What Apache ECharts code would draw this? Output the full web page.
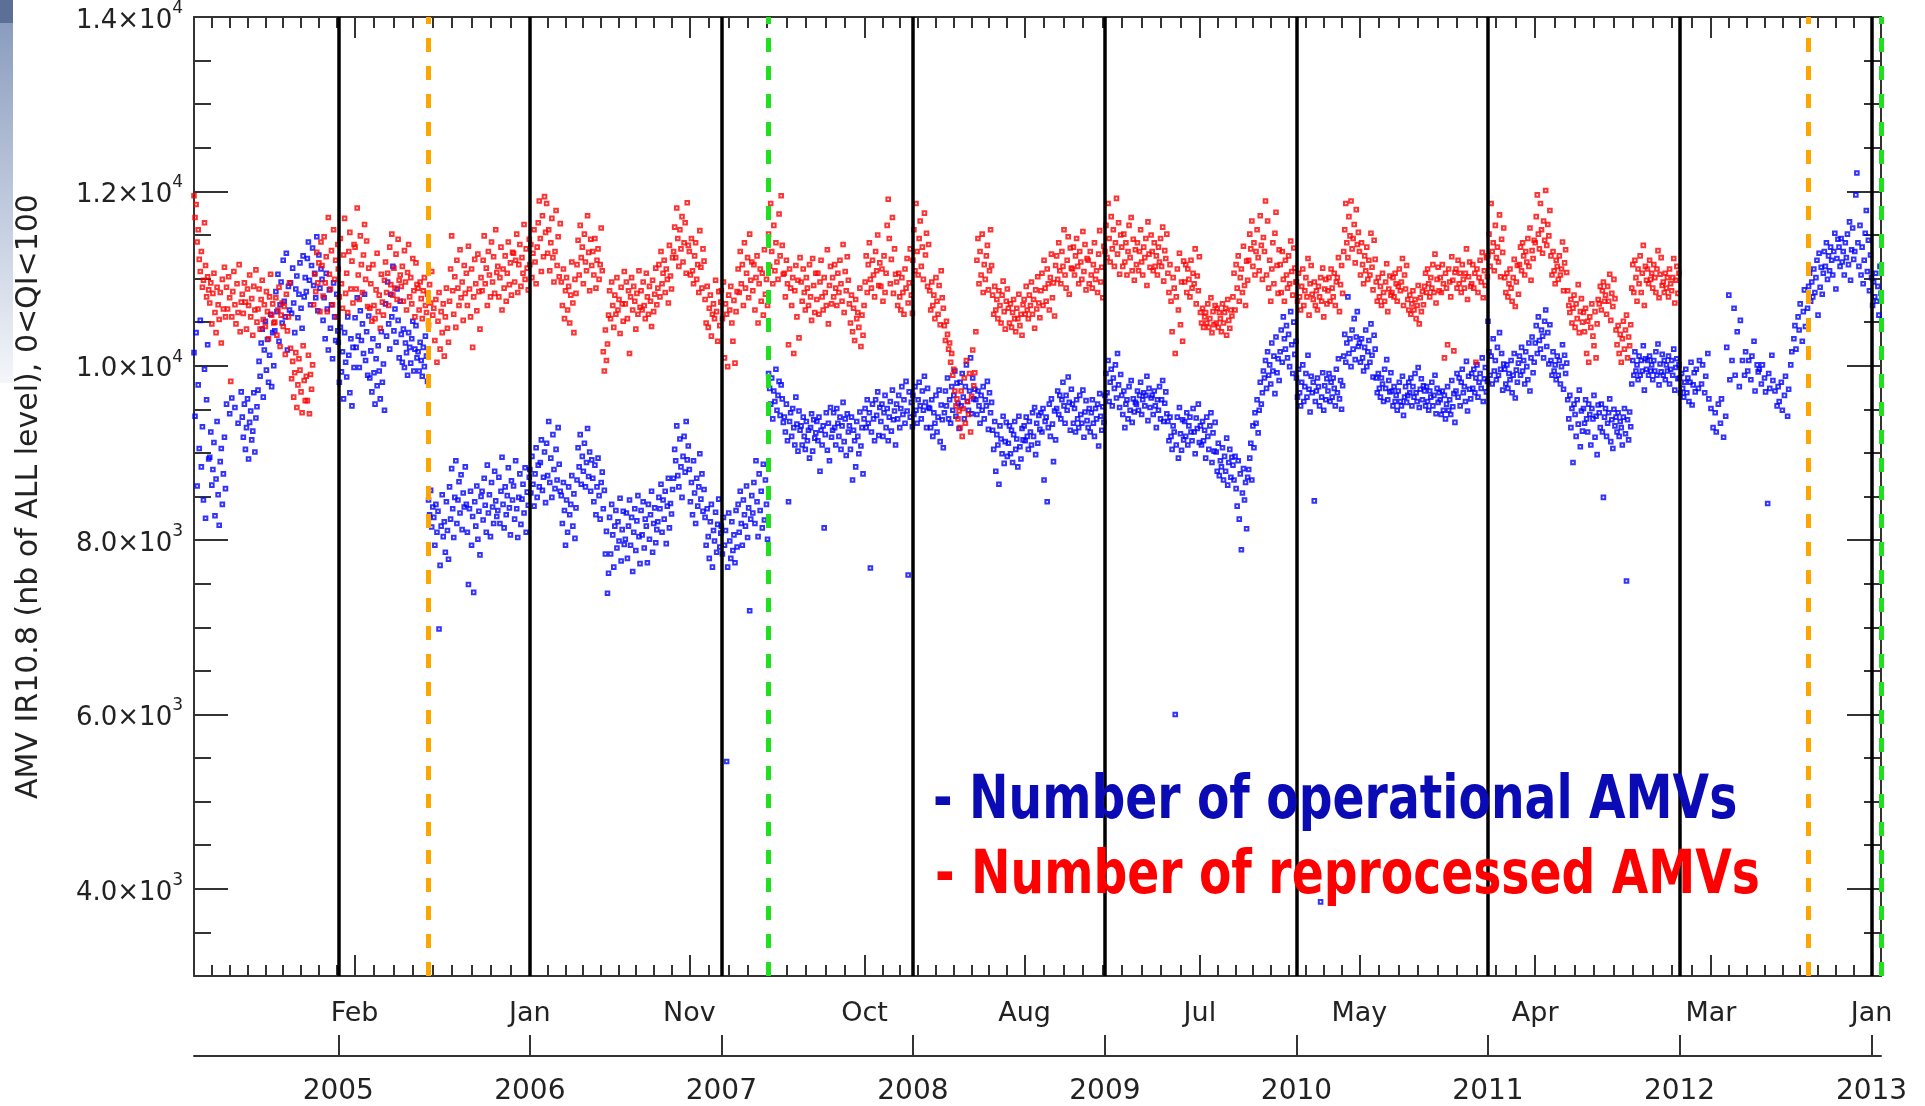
<!DOCTYPE html>
<html>
<head>
<meta charset="utf-8">
<title>AMV IR10.8 counts, operational vs reprocessed</title>
<script src="https://cdn.jsdelivr.net/npm/echarts@6/dist/echarts.min.js"></script>
<style>
  html, body { margin: 0; padding: 0; background: #ffffff; }
  #chart { width: 1925px; height: 1106px; }
</style>
</head>
<body>
<div id="chart"></div>
<script>
// Number of AMVs (IR10.8, all levels, 0<QI<100), one value every 2 days.
// Each yearly list starts on its own first date; one row per month; null = no data.
const SAMPLE_STEP_DAYS = 2;

const operational2004 = [
  10150, 9420, 10380, 8620, 9780, 9050, 10520, 8840, 9300, 8460, 9960, 8250, 9610, 10240, 8930,
  8950, 9240, 8630, 8810, 9120, 8280, 8700, 9360, 8520, 8170, 8900, 9050, 8410, 8760, 9180, 8590,
  9560, null, null, 9450, null, 9630, null, null, 9520, null, null, 9340, null, null, 9700,
  9410, 9180, 9560, 9040, 9290, 9620, 8930, 9350, 9480, 9150, 9250, 9690, 9010, 9400, 9530,
  9720, 10050, 9880, 10260, 10420, 9640, 10180, 10510, 9950, 10300, 9810, 10120, 10590, 9760, 10380, 10000,
  10400, 10850, 10620, 11050, 10280, 10700, 10960, 10490, 11210, 10740, 10560, 11290, 10180, 10910, 10640,
  10950, 10600, 11120, 10720, 10380, 10880, 11030, 10550, 10820, 11180, 10660, 10430, 11260, 10790, 11010,
  10850, 11230, 11420, 10980, 10700, 11150, 11350, 10920, 11060, 10780, 11480, 10630, 11270, 10890, 11110,
  10990, 10520, 10780, 10310, 11060, 10650, 10180, 10870, 10430, 10700, 10080, 10950, 10560, 10290, 10820, 10400
];
const operational2005 = [
  10270, 9810, 10440, 9930, 10160, 9620, 10380, 10040, 9870, 10560, 10120, 9690, 10310, 9540, 10210, 9980,
  10550, 10210, 10780, 10340, 9980, 10630, 10290, 10480, 10140, 10820, 10060, 10390, 9890, 10570,
  9860, 10170, 9700, 10310, 9920, 9560, 10080, 9770, 10230, 9940, 9620, 10390, 9810, 10020, 9490,
  10710, 10340, 10960, 10480, 10190, 10820, 10560, 11140, 10400, 10650, 10270, 10880, 10520, 10090, 10740,
  10360, 10040, 10420, 9980, 10260, 10150, 9890, 10380, 10210, 10030, 10310, 10510, 9940, 10190, 10460, 10090,
  10160, 9940, 10270, 10060, 9880, 10210, 9990, 10340, 10110, 9820, 8460, 8290, 8570, 8150, 8380,
  8260, 7940, 8410, 8090, 8330, 6980, 7710, 8160, 8520, 8040, 8210, 7860, 8440, 8110, 7780,
  8610, 8240, 8820, 8360, 8030, 8490, 8910, 8190, 8460, 8670, 8310, 8750, 8120, 8540, 8380, 8840,
  8410, 8090, 7490, 8360, 8560, 7940, 8270, 7400, 8440, 8160, 8620, 8010, 8330, 7830, 8500,
  8560, 8230, 8710, 8400, 8090, 8860, 8310, 8520, 8040, 8660, 8380, 8190, 8790, 8450, 8270,
  8340, 8720, 8190, 8560, 8950, 8410, 8140, 8610, 8290, 8510, 8830, 8370, 8060, 8680, 8460,
  8620, 8240, 8910, 8360, 8030, 8490, 8760, 8180, 8470, 8640, 8310, 8830, 8090, 8550, 8400, 8720
];
const operational2006 = [
  8810, 8540, 8960, 8640, 8390, 8760, 9060, 8490, 8860, 8610, 8890, 9150, 8570, 8720, 9010, 8430,
  9110, 8740, 9360, 8660, 8940, 8490, 9210, 8810, 8590, 9040, 8690, 9290, 8870, 8560,
  8510, 8190, 8660, 8340, 7940, 8460, 8090, 8610, 8290, 8410, 8740, 8160, 8530, 8020, 8370,
  8690, 9060, 8840, 9210, 8640, 8960, 8790, 9110, 8610, 8890, 9280, 8730, 9010, 8560, 8920,
  8710, 8440, 8860, 8290, 8610, 8940, 8510, 8240, 8660, 8780, 8360, 8570, 7840, 8100, 7390, 7620,
  8260, 7840, 8410, 8060, 7690, 8160, 8340, 7910, 8210, 7990, 8480, 7760, 8120, 8330, 7950,
  8010, 8310, 7790, 8160, 8460, 7940, 8260, 7640, 8090, 8360, 7880, 8220, 8510, 8040, 7730,
  8340, 8060, 8440, 7910, 8240, 8160, 7740, 8410, 8010, 8290, 8560, 7860, 8190, 8370, 7970, 8120,
  8210, 8490, 8360, 8640, 8090, 8460, 8240, 8560, 7960, 8390, 8710, 8140, 8420, 8300, 8580,
  8710, 9040, 8910, 9310, 8740, 8610, 9160, 8840, 8490, 8960, 9190, 8780, 9360, 8920, 9080,
  8810, 8440, 8660, 8290, 8910, 8540, 8190, 8710, 8390, 8610, 8990, 8470, 8760, 8330, 8580,
  8260, 7940, 8360, 8040, 7790, 8210, 8410, 7690, 8110, 7990, 8320, 7860, 8180, 8470, 7920, 8080
];
const operational2007 = [
  8160, 7840, 8260, 7940, 8110, 5460, 7690, 8310, 7990, 7790, 8210, 7880, 8060, 7740, 8340, 7920,
  8410, 8090, 8560, 8190, 7940, 8460, 8290, 8160, 8620, 8030, 8370, 7190, 8240, 8510,
  8310, 8660, 8190, 8910, 8440, 8040, 8760, 8340, 8560, 8140, 8870, 8230, 8690, 8410, 8010,
  9910, 9740, 9560, 9860, 9390, 9710, 9590, 9960, 9490, 9660, 9820, 9430, 9780, 9620, 9350,
  9410, 9240, 9560, 9140, 8440, 9360, 9460, 9190, 9510, 9290, 9090, 9640, 9330, 9020, 9480, 9260,
  9310, 9090, 9410, 9190, 9040, 9360, 9140, 9260, 8940, 9290, 9450, 9020, 9380, 9170, 9230,
  9360, 9140, 9410, 8790, 9260, 9090, 9310, 8140, 9210, 9460, 9030, 9340, 8910, 9520, 9180,
  9260, 9460, 9290, 9090, 9510, 9340, 9190, 9410, 9040, 9310, 9580, 9130, 9390, 8970, 9450, 9240,
  9310, 9040, 9410, 8690, 9260, 9140, 8840, 9360, 9190, 8990, 9470, 9080, 9290, 8760, 9390,
  9510, 9290, 9610, 9340, 9460, 7680, 9240, 9560, 9390, 9140, 9610, 9430, 9700, 9200, 9520,
  9360, 9560, 9190, 9460, 9660, 9290, 9510, 9140, 9410, 9590, 9250, 9720, 9380, 9480, 9090,
  9560, 9390, 9660, 9290, 9510, 9760, 9440, 9610, 9340, 9820, 9480, 7600, 9700, 9410, 9580, 9300
];
const operational2008 = [
  9660, 9440, 9760, 9490, 9340, 9610, 9810, 9540, 9390, 9710, 9490, 9880, 9580, 9290, 9740, 9520,
  9510, 9290, 9610, 9190, 9460, 9340, 9660, 9240, 9410, 9720, 9130, 9550, 9380, 9060,
  9460, 9710, 9540, 9860, 9390, 9610, 9340, 9760, 9490, 9660, 9940, 9420, 9800, 9570, 9280,
  9810, 9540, 9910, 9640, 9390, 9760, 10010, 9590, 9490, 9710, 10090, 9450, 9860, 9620, 9730,
  9610, 9440, 9710, 9540, 9340, 9660, 9490, 9760, 9390, 9610, 9540, 9820, 9270, 9690, 9460, 9580,
  9260, 9040, 9360, 8790, 9210, 9090, 8640, 9310, 9160, 8990, 9420, 8880, 9130, 9350, 8960,
  9110, 9310, 8990, 9260, 8890, 9210, 9360, 9040, 9160, 8840, 9420, 9070, 8930, 9280, 9150,
  9310, 9140, 9410, 9190, 9040, 9360, 9240, 9090, 9460, 9190, 9520, 8980, 9340, 9110, 9430, 9270,
  9460, 9240, 9510, 8690, 9360, 9410, 8440, 9290, 9560, 9190, 9620, 9330, 8900, 9480, 9150,
  9510, 9710, 9440, 9660, 9390, 9610, 9810, 9540, 9340, 9660, 9490, 9870, 9580, 9260, 9730,
  9560, 9340, 9510, 9240, 9610, 9390, 9290, 9660, 9440, 9340, 9720, 9180, 9470, 9600, 9370,
  9290, 9510, 9240, 9460, 9610, 9340, 9190, 9510, 9390, 9560, 9080, 9680, 9420, 9260, 9530, 9350
];
const operational2009 = [
  9660, 9910, 9690, 10060, 9590, 9810, 9960, 9540, 9860, 9740, 10010, 9630, 10140, 9780, 9520, 9900,
  9660, 9440, 9710, 9290, 9560, 9610, 9390, 9760, 9490, 9830, 9350, 9620, 9470, 9580,
  9560, 9710, 9490, 9660, 9810, 9440, 9610, 9690, 9540, 9660, 9880, 9370, 9740, 9520, 9630,
  9660, 9440, 9710, 9540, 9290, 9610, 9490, 9760, 9390, 9610, 9830, 9360, 9570, 9700, 9450,
  9360, 9140, 9410, 9190, 9040, 9310, 9240, 6000, 9090, 9410, 8940, 9520, 9220, 9030, 9380, 9150,
  9360, 9190, 9460, 9090, 9310, 9410, 9240, 9140, 9510, 9240, 8990, 9400, 9280, 9560, 9120,
  9310, 9090, 9360, 9140, 9260, 8940, 9410, 9190, 9040, 9310, 9460, 8890, 9230, 9020, 9350,
  9010, 8790, 9110, 8740, 8910, 8840, 9060, 8690, 8960, 8790, 9170, 8630, 8890, 9040, 8720, 8950,
  8860, 8690, 8960, 8590, 8390, 8910, 8240, 8760, 7890, 8540, 8820, 8460, 8660, 8130, 8720,
  8810, 8940, 9110, 8690, 9310, 9060, 9460, 9340, 9610, 9230, 9490, 9810, 9560, 9690, 9940,
  9860, 10060, 9740, 10160, 9890, 10010, 9790, 10260, 9940, 10110, 9680, 10330, 9920, 10080, 9830,
  10160, 10410, 10040, 10560, 10310, 10190, 10460, 10090, 10360, 9990, 10620, 10240, 9910, 10500, 10130, 10280
];
const operational2010 = [
  9860, 9640, 9960, 9690, 9540, 9810, 10010, 9590, 9760, 9910, 9640, 10120, 9730, 9470, 9880, 9690,
  9810, 8450, 9590, 9710, 9860, 9760, 9540, 3850, 9640, 9920, 9490, 9770, 9610, 9850,
  9710, 9910, 9590, 9810, 9640, 9860, 9740, 9540, 9960, 9690, 10080, 9620, 9830, 9500, 9770,
  10110, 10360, 10040, 10260, 10790, 10140, 10310, 9990, 10410, 10190, 10540, 10070, 10330, 10620, 10220,
  10260, 10040, 10310, 10090, 9940, 10210, 10410, 9990, 10160, 10290, 10040, 10480, 10120, 9870, 10350, 10190,
  9860, 9690, 9910, 9740, 9640, 9860, 9790, 9590, 9960, 9740, 10070, 9610, 9830, 9700, 9920,
  9710, 9540, 9760, 9590, 9660, 9490, 9710, 9810, 9590, 9540, 9880, 9430, 9640, 9760, 9580,
  9660, 9810, 9690, 9860, 9540, 9760, 9640, 9910, 9690, 9590, 9980, 9520, 9730, 9850, 9610, 9770,
  9710, 9540, 9760, 9590, 9490, 9710, 9640, 9810, 9540, 9660, 9890, 9450, 9740, 9580, 9690,
  9610, 9440, 9710, 9490, 9660, 9390, 9560, 9760, 9490, 9610, 9440, 9830, 9530, 9680, 9350,
  9710, 9910, 9640, 9860, 9540, 9810, 9960, 9690, 9760, 9590, 10050, 9480, 9880, 9730, 9620,
  9910, 9740, 9960, 9690, 9860, 10010, 9640, 9810, 9910, 9740, 10090, 9590, 9850, 9980, 9700, 9820
];
const operational2011 = [
  10510, 10160, 9890, 10110, 9790, 10310, 9940, 10060, 9840, 10210, 9890, 10380, 9960, 10140, 9720, 10020,
  9960, 9790, 10010, 9740, 9910, 9840, 10060, 9690, 9890, 10140, 9630, 9950, 9810, 10030,
  10110, 9890, 10210, 9940, 10060, 9790, 10160, 9990, 9840, 10260, 9710, 10090, 10330, 9920, 10040,
  10260, 10460, 10140, 10560, 10290, 10190, 10410, 10340, 10090, 10510, 10640, 10220, 10380, 10020, 10470,
  10060, 9890, 10160, 9940, 10010, 9840, 10110, 9890, 10060, 9790, 9990, 10240, 9730, 10120, 9910, 10030,
  9610, 9390, 9660, 9290, 9510, 8890, 9560, 9440, 9190, 9610, 9330, 9720, 9070, 9480, 9250,
  9510, 9340, 9610, 9390, 9240, 9560, 9440, 9090, 9510, 9390, 9660, 9180, 9420, 8980, 9550,
  9460, 9290, 9560, 9240, 8490, 9410, 9510, 9190, 9340, 9460, 9620, 9130, 9380, 9050, 9500, 9310,
  9410, 9240, 9460, 9190, 9360, 9290, 9090, 9410, 9510, 9220, 7530, 9380, 9150, 9470, 9300,
  9790, 10060, 9890, 10160, 9940, 10010, 9840, 10110, 9890, 10060, 9940, 10230, 9720, 10080, 9960,
  10060, 9890, 10110, 9940, 10010, 9840, 10060, 9940, 10160, 9890, 10250, 9780, 10020, 9930, 10130,
  9890, 10060, 9840, 10010, 9940, 10110, 9790, 9960, 10060, 9890, 10190, 9720, 9980, 10080, 9850, 10010
];
const operational2012 = [
  9860, 9690, 9910, 9740, 9640, 9810, 9960, 9690, 9860, 9590, 9810, 10040, 9550, 9780, 9920, 9700,
  9960, null, 9740, 10060, null, 9790, 10010, null, 9690, 9880, null, 10140, 9620, null,
  9510, null, 9290, null, 9460, 9240, null, 9560, null, 9340, 9620, null, 9180, null, 9420,
  10210, null, 10810, 9840, null, 10060, null, 10660, 9890, null, 10390, null, 9760, 10520, null,
  10060, null, 9890, 10160, null, 9940, 10060, null, 9840, 10110, null, 10280, 9710, null, 10010, 9930,
  9960, null, 9790, 10010, null, 9860, 9700, null, 8420, 9910, 9740, null, 10120, 9830, null,
  9710, null, 9540, 9760, 9590, null, 9810, 9490, null, 9660, 9880, null, 9420, 9730, null,
  10010, 10160, null, 10310, 10460, 10190, null, 10560, 10410, 10710, null, 10280, 10620, 10870, 10450, null,
  10660, 10910, 11060, 10740, 10960, 10790, 11110, 10840, 11010, 11210, 10580, 11290, 10900, 11130, 10820,
  11060, 11310, 11140, 11410, 10990, 11260, 11090, 11360, 11210, 11040, 11310, 11520, 10880, 11230, 11450,
  11360, 11140, 11460, 11190, 11310, 11040, 11410, 11240, 11510, 11160, 11650, 10980, 11330, 11580, 11220,
  11310, 11960, 12210, 11410, 11140, 11610, 11040, 11360, 10940, 11210, 11520, 11780, 11080, 11440, 10860, 11270
];
const operational2013 = [
  11010, 10690, 10960, 10790, 11060, 10740, 10910, 10580, 11140, 10830
];

const reprocessed2004 = [
  11950, 11700, 11850, 11420, 11560, 11220, 11080, 11310, 10900, 10980, 11640, 11150, 10790, 11020, 10870,
  10720, 10950, 10480, 10830, 11060, 10610, 10380, 10900, 10700, 10530, 10840, 10260, 10990, 10650, 11130, 10560,
  10900, 10650, 11020, 10780, 9820, 10560, 10850, 11080, 10700, 10480, 10940, 10610, 11160, 10390, 10730,
  10820, 10600, 10950, 10730, 10420, 10880, 10690, 11040, 10560, 10770, 10350, 10910, 10640, 11100, 10500,
  10650, 10880, 10420, 10760, 10980, 10530, 10700, 10450, 10850, 10620, 10310, 10790, 11050, 10580, 10710, 10490,
  10500, 10780, 10350, 10640, 10900, 10220, 10580, 10720, 10450, 10680, 10130, 10820, 10400, 10560, 10950,
  10200, 9850, 10050, 9640, 9920, 10150, 9520, 9780, 10080, 9950, 9700, 9460, 10230, 9830, 9600,
  9880, 9600, 10120, 9450, 9900, 9730, 10010, 10700, 11050, 10850, 11300, 10950, 11180, 10620, 11420,
  11150, 10800, 11480, 10950, 11250, 10620, 11700, 11050, 10880, 11320, 10700, 11560, 10990, 11210, 10560, 11390
];
const reprocessed2005 = [
  11110, 10790, 11460, 10940, 10660, 11270, 11690, 10830, 11060, 10610, 11310, 11530, 10880, 11200, 10720, 11390,
  11360, 10880, 11810, 11040, 10760, 11490, 11160, 10840, 11270, 11620, 10990, 11430, 10680, 11120,
  10660, 10940, 10510, 11160, 10690, 10540, 10870, 11290, 10620, 10810, 10430, 11050, 10730, 10580, 10980,
  11190, 10840, 11060, 10690, 11360, 10930, 11510, 10810, 11120, 10890, 11280, 10760, 11450, 10980, 11040,
  10910, 11140, 10740, 11320, 10960, 10640, 11070, 11390, 10790, 11010, 10710, 11230, 10860, 10560, 11180, 10930,
  10890, 10640, 10960, 10770, 10540, 10860, 11010, 10690, 10610, 10820, 10470, 10930, 10720, 11080, 10580,
  10660, 10290, 10760, 10040, 10510, 10840, 10190, 10620, 10380, 10710, 10110, 10560, 10890, 10430, 10270,
  10740, 11110, 11490, 10860, 10590, 11020, 10440, 11210, 10890, 10690, 11330, 10780, 10960, 10520, 11150, 10830,
  11060, 10690, 11370, 10880, 10560, 11110, 10210, 10790, 11220, 10940, 10630, 11280, 10850, 10420, 11010,
  10860, 11210, 11490, 10940, 11120, 10690, 11310, 11040, 10790, 11420, 10960, 11250, 10830, 11560, 11070,
  11140, 10790, 11010, 11360, 10640, 11110, 10890, 11260, 10740, 11060, 11420, 10930, 11180, 10810, 11300,
  11290, 10960, 11210, 11510, 10840, 11160, 11390, 10910, 11240, 11060, 11620, 10990, 11340, 11120, 10870, 11450
];
const reprocessed2006 = [
  11160, 11390, 11010, 11290, 11560, 11190, 10940, 11360, 11640, 11890, 11460, 11080, 11720, 11250, 11940, 11530,
  11860, 11290, 11560, 11090, 11410, 11690, 11240, 10960, 11310, 11780, 11150, 11480, 11020, 11630,
  10960, 10690, 11110, 10540, 10860, 11010, 10640, 10910, 10490, 10810, 11190, 10720, 10380, 10990, 10830,
  11160, 11440, 11040, 11610, 11240, 11360, 10940, 11510, 11190, 11090, 11720, 11300, 10860, 11450, 11150,
  11310, 11040, 11460, 10890, 11210, 11340, 10990, 11160, 11580, 11090, 10160, 9940, 10410, 10060, 10250, 10580,
  10860, 10540, 10960, 10690, 10440, 10810, 10590, 11010, 10640, 10760, 10370, 10900, 10710, 10510, 11080,
  10710, 10960, 10540, 10860, 10140, 10790, 11010, 10640, 10910, 10740, 10420, 10830, 10590, 11090, 10670,
  10860, 10640, 10960, 10690, 10540, 11060, 10790, 10590, 10910, 10740, 10450, 10980, 10620, 10820, 11120, 10700,
  10890, 11160, 10790, 11310, 10940, 11060, 11210, 10840, 11110, 10990, 10720, 11380, 11030, 10880, 11240,
  11310, 11590, 11240, 11810, 11460, 11140, 11560, 11340, 11710, 11190, 11410, 11640, 11060, 11870, 11380,
  11310, 11040, 11460, 11090, 10940, 11260, 11410, 10990, 11160, 10840, 11550, 11130, 10890, 11340, 11200,
  10760, 10490, 10910, 10440, 10660, 10810, 10340, 10590, 10710, 10540, 10980, 10620, 10280, 10850, 10460, 10730
];
const reprocessed2007 = [
  10860, 10540, 10960, 10090, 10710, 10590, 9990, 10810, 10640, 10910, 10490, 10280, 10750, 10030, 10620, 10850,
  11110, 10840, 11310, 10940, 11160, 10690, 11410, 10890, 11060, 11240, 10780, 11510, 10980, 11190,
  10860, 11160, 10640, 11010, 11260, 10490, 10940, 11110, 10740, 11060, 10580, 11330, 10820, 10990, 10690,
  11510, 11140, 11860, 11310, 10940, 11610, 11090, 11410, 11190, 10990, 11740, 11260, 11950, 11380, 11050,
  11060, 10790, 11210, 10940, 10240, 11110, 10890, 10690, 11010, 10140, 10860, 11150, 10560, 10980, 10320, 11240,
  10960, 10740, 11110, 10840, 10640, 11010, 10890, 10690, 11160, 10790, 10520, 11230, 10920, 10610, 11060,
  10760, 11060, 10590, 10960, 11210, 10790, 10640, 11010, 10840, 10690, 11330, 10480, 10920, 11140, 10710,
  11010, 10790, 11160, 10890, 10690, 11060, 10840, 11210, 10940, 10740, 11390, 10610, 11080, 10860, 11250, 10980,
  10710, 10490, 10810, 10390, 10660, 10290, 10760, 10540, 10610, 10440, 10890, 10220, 10580, 10350, 10690,
  10960, 11260, 10840, 11160, 11410, 10990, 10890, 11210, 11040, 10790, 11310, 11090, 11500, 10920, 11180,
  10910, 11110, 10740, 11260, 10840, 11060, 11610, 11910, 11460, 10940, 11220, 11700, 10830, 11340, 11050,
  10960, 10690, 11060, 10790, 10640, 11010, 10840, 10590, 11110, 10890, 11230, 10720, 10950, 11340, 10810, 10600
];
const reprocessed2008 = [
  11210, 11560, 11090, 11860, 11310, 11040, 11460, 11660, 11140, 11360, 10990, 11750, 11270, 11520, 10910, 11390,
  10860, 10640, 10960, 10690, 10810, 10540, 11010, 10740, 10590, 10920, 10470, 11090, 10780, 10660,
  10460, 10290, 10510, 10360, 10190, 10260, 10040, 10140, 9890, 9960, 9710, 9540, 9620, 9390, 9480,
  9290, 9710, 9190, 9510, 9860, 9340, 10060, 9590, 9440, 9910, 9240, 9650, 10180, 9770, 9920,
  10390, 11210, 11460, 10940, 11310, 11040, 11510, 10840, 11160, 10990, 11260, 11380, 10870, 11090, 11560, 11150,
  10810, 10590, 10910, 10640, 10760, 10540, 10860, 10690, 10490, 10810, 10970, 10620, 10420, 10740, 10880,
  10660, 10490, 10710, 10440, 10610, 10760, 10540, 10390, 10660, 10540, 10820, 10460, 10590, 10350, 10700,
  10760, 10590, 10910, 10640, 10540, 10810, 10690, 10960, 10590, 10760, 10430, 10870, 10650, 11020, 10720, 10550,
  10860, 11060, 10690, 11210, 10890, 10740, 11110, 10940, 10640, 11010, 11280, 10780, 10950, 10570, 11150,
  11260, 10990, 11410, 11090, 10940, 11310, 11140, 11560, 11040, 10890, 11210, 11480, 10820, 11350, 11120,
  11110, 11360, 11040, 11260, 11460, 11140, 10940, 11310, 11190, 10990, 11540, 11080, 11390, 10870, 11230,
  11210, 10940, 11310, 11040, 10890, 11160, 11410, 10990, 11090, 10840, 11280, 11550, 10960, 11130, 10780, 11370
];
const reprocessed2009 = [
  11310, 11610, 11240, 11860, 11460, 11190, 11710, 11340, 11560, 11140, 11410, 11920, 11280, 11640, 11050, 11500,
  11360, 11140, 11510, 11190, 11410, 11040, 11310, 11610, 11240, 11700, 11090, 11450, 10980, 11330,
  11160, 11410, 11090, 11310, 11560, 11190, 11040, 11360, 11240, 11460, 10920, 11650, 11280, 11130, 11500,
  11310, 11090, 11410, 11140, 11260, 11040, 11360, 11190, 11460, 11140, 11590, 10970, 11320, 11230, 11510,
  11060, 10840, 11160, 10740, 10390, 11010, 10890, 10140, 10790, 11110, 10640, 11290, 10470, 10960, 10280, 11200,
  10960, 11160, 10840, 11110, 10990, 10790, 11210, 10890, 11060, 10940, 11340, 10710, 11030, 10860, 11250,
  10610, 10490, 10660, 10440, 10560, 10610, 10490, 10710, 10440, 10540, 10780, 10380, 10620, 10470, 10690,
  10490, 10660, 10440, 10610, 10540, 10390, 10710, 10490, 10610, 10660, 10350, 10760, 10520, 10430, 10640, 10570,
  10790, 11060, 10640, 11160, 10890, 11260, 10740, 11010, 11110, 10840, 11370, 10920, 10690, 11200, 10980,
  11210, 11510, 11340, 11660, 11140, 11410, 11040, 11310, 11560, 11240, 11090, 11720, 11380, 10990, 11470,
  11310, 11890, 11040, 11660, 10890, 11210, 10740, 11110, 11410, 10940, 11520, 11760, 11150, 10830, 11330,
  11160, 10840, 11310, 10990, 10740, 11210, 11040, 10890, 11260, 10940, 11430, 11080, 10810, 11350, 11120, 10960
];
const reprocessed2010 = [
  10960, 10740, 11060, 10790, 10640, 10910, 11110, 10690, 10860, 11010, 10790, 11230, 10580, 10940, 11150, 10820,
  10760, 10960, 10690, 10860, 10640, 10910, 10790, 11010, 10740, 11120, 10560, 10880, 10990, 10710,
  10860, 11010, 10740, 11110, 10890, 10790, 11060, 10690, 10960, 11010, 11240, 10620, 10930, 11150, 10830,
  11310, 11560, 11860, 11410, 11240, 11710, 11490, 11890, 11340, 11460, 11620, 11180, 11790, 11390, 11530,
  11310, 11040, 11410, 11160, 10940, 11260, 11090, 11360, 10990, 11210, 11040, 11520, 11130, 10870, 11440, 11220,
  10960, 10740, 11010, 10790, 10910, 10690, 11060, 10840, 10740, 10960, 11170, 10620, 10880, 11030, 10810,
  10840, 11010, 10790, 11060, 10940, 10740, 10910, 11110, 10860, 10960, 11230, 10690, 11040, 10880, 11150,
  10760, 10640, 10810, 10590, 10710, 10860, 10640, 10760, 10540, 10690, 10920, 10480, 10780, 10620, 10850, 10700,
  10910, 11060, 10840, 11110, 10940, 10790, 11010, 10890, 11160, 10840, 11280, 10720, 10990, 11130, 10860,
  11010, 10840, 11160, 10940, 10090, 11060, 10890, 10240, 11110, 10960, 10790, 11250, 10980, 10170, 11070,
  11110, 10890, 11210, 10940, 11060, 10840, 11160, 10990, 10890, 11060, 11340, 10760, 11020, 11190, 10910,
  10940, 11160, 10890, 11060, 10040, 11110, 10840, 11010, 11210, 10960, 11300, 10780, 11090, 10920, 11240, 11020
];
const reprocessed2011 = [
  11260, 11510, 11140, 11860, 11310, 11410, 11090, 11610, 11240, 11360, 11190, 11730, 11020, 11450, 11300, 11580,
  11010, 10840, 11060, 10790, 10940, 11110, 10890, 10740, 11010, 11220, 10680, 10960, 11150, 10820,
  11160, 11360, 11090, 11410, 11260, 11040, 11310, 11190, 11460, 11140, 11580, 10980, 11320, 11230, 11440,
  11410, 11710, 11960, 11510, 11340, 11860, 11560, 11290, 11660, 11440, 12010, 11380, 11620, 11490, 11780,
  11260, 11040, 11310, 11090, 10940, 11210, 11140, 10990, 11260, 11040, 11110, 11420, 10860, 11180, 11330, 11070,
  10860, 10690, 10610, 10760, 10490, 10660, 10810, 10440, 10710, 10540, 10930, 10380, 10620, 10770, 10500,
  10610, 10390, 10660, 10140, 10510, 10040, 10560, 10440, 10710, 10340, 10230, 10620, 10090, 10480, 10760,
  10710, 10910, 10640, 10860, 10960, 10740, 10810, 10590, 10910, 10740, 11050, 10520, 10830, 10680, 10990, 10770,
  10410, 10240, 10460, 10140, 10360, 10040, 10310, 10510, 10190, 10410, 10580, 10090, 10330, 10230, 10470,
  10890, 11160, 10840, 11210, 11010, 10740, 11110, 10940, 11260, 10840, 11060, 11380, 10690, 11140, 10980,
  11110, 10940, 11210, 10990, 11060, 10890, 11160, 11010, 10840, 11110, 11320, 10780, 11050, 11240, 10920,
  10960, 10840, 11060, 10890, 11010, 10790, 11110, 10940, 10860, 11010, 11230, 10720, 10980, 11140, 10830, 11060
];

// First date of each yearly list
const operationalStarts = ['2004-04-01', '2005-01-01', '2006-01-01', '2007-01-01', '2008-01-01',
  '2009-01-01', '2010-01-01', '2011-01-01', '2012-01-01', '2013-01-01'];
const operationalYears = [operational2004, operational2005, operational2006, operational2007, operational2008,
  operational2009, operational2010, operational2011, operational2012, operational2013];
const reprocessedStarts = ['2004-04-01', '2005-01-01', '2006-01-01', '2007-01-01', '2008-01-01',
  '2009-01-01', '2010-01-01', '2011-01-01'];
const reprocessedYears = [reprocessed2004, reprocessed2005, reprocessed2006, reprocessed2007, reprocessed2008,
  reprocessed2009, reprocessed2010, reprocessed2011];

// Time axis: range, labelled month ticks, year ticks, event markers
const X_RANGE = ['2004-04-01', '2013-01-19'];
const MONTH_TICK_DATES = ['2004-04-01', '2005-02-01', '2006-01-01', '2006-11-01', '2007-10-01', '2008-08-01',
  '2009-07-01', '2010-05-01', '2011-04-01', '2012-03-01', '2013-01-01'];
const YEAR_TICK_DATES = ['2005-01-01', '2006-01-01', '2007-01-01', '2008-01-01', '2009-01-01',
  '2010-01-01', '2011-01-01', '2012-01-01', '2013-01-01'];
const ORANGE_EVENT_DATES = ['2005-06-21', '2012-09-02'];
const GREEN_EVENT_DATES = ['2007-04-01', '2013-01-19'];
const MONTH_NAMES = ['Jan', 'Feb', 'Mar', 'Apr', 'May', 'Jun', 'Jul', 'Aug', 'Sep', 'Oct', 'Nov', 'Dec'];

// Count axis
const Y_RANGE = [3000, 14000];
const Y_MAJOR_TICKS = [4000, 6000, 8000, 10000, 12000, 14000];
const Y_MINOR_STEP = 500;

const DAY_MS = 86400000;
function utc(s) {
  const p = s.split('-').map(Number);
  return Date.UTC(p[0], p[1] - 1, p[2]);
}
function toPoints(starts, years) {
  const pts = [];
  years.forEach(function (vals, k) {
    const t0 = utc(starts[k]);
    vals.forEach(function (v, i) {
      if (v !== null) pts.push([t0 + i * SAMPLE_STEP_DAYS * DAY_MS, v]);
    });
  });
  return pts;
}

const xMin = utc(X_RANGE[0]);
const xMax = utc(X_RANGE[1]);
const monthTicks = MONTH_TICK_DATES.map(utc);
const yearTicks = YEAR_TICK_DATES.map(utc);
// nine minor intervals between neighbouring month ticks
const minorTicks = [];
for (let k = 0; k < monthTicks.length - 1; k++) {
  const a = monthTicks[k], b = monthTicks[k + 1];
  for (let j = 1; j < 9; j++) minorTicks.push(a + (b - a) * j / 9);
}

const AXIS_COLOR = '#333333';
const TEXT_COLOR = '#222222';
const FONT = 'DejaVu Sans';

function sciLabel(v) {
  const e = Math.floor(Math.log10(v) + 1e-9);
  const m = (v / Math.pow(10, e)).toFixed(1);
  return '{m|' + m + '\u00d710}{e|' + e + '}';
}

function xAxisDef(extra) {
  return Object.assign({
    type: 'value', min: xMin, max: xMax, gridIndex: 0,
    splitLine: { show: false },
    axisLine: { show: false, onZero: false },
    axisLabel: { show: false },
    axisTick: { show: false }
  }, extra);
}
function yAxisDef(extra) {
  return Object.assign({
    type: 'value', min: Y_RANGE[0], max: Y_RANGE[1], gridIndex: 0,
    splitLine: { show: false },
    axisLine: { show: false, onZero: false },
    axisLabel: { show: false },
    axisTick: { show: false }
  }, extra);
}

const tickStyle = { color: AXIS_COLOR, width: 2 };
const lineStyle = { color: AXIS_COLOR, width: 2 };

const xAxes = [
  xAxisDef({
    position: 'bottom',
    axisLine: { show: true, onZero: false, lineStyle: lineStyle },
    axisTick: { show: true, inside: true, length: 21, customValues: monthTicks, lineStyle: tickStyle },
    axisLabel: {
      show: true, customValues: monthTicks.slice(1), margin: 24,
      fontSize: 27, fontFamily: FONT, color: TEXT_COLOR,
      formatter: function (v) { return MONTH_NAMES[new Date(v).getUTCMonth()]; }
    }
  }),
  xAxisDef({
    position: 'bottom',
    axisTick: { show: true, inside: true, length: 11, customValues: minorTicks, lineStyle: tickStyle }
  }),
  xAxisDef({
    position: 'top',
    axisLine: { show: true, onZero: false, lineStyle: lineStyle },
    axisTick: { show: true, inside: true, length: 21, customValues: monthTicks, lineStyle: tickStyle }
  }),
  xAxisDef({
    position: 'top',
    axisTick: { show: true, inside: true, length: 11, customValues: minorTicks, lineStyle: tickStyle }
  }),
  xAxisDef({
    position: 'bottom', offset: 80,
    axisLine: { show: true, onZero: false, lineStyle: lineStyle },
    axisTick: { show: true, inside: true, length: 21, customValues: yearTicks, lineStyle: tickStyle },
    axisLabel: {
      show: true, customValues: yearTicks, margin: 22,
      fontSize: 28, fontFamily: FONT, color: TEXT_COLOR,
      formatter: function (v) { return String(new Date(v).getUTCFullYear()); }
    }
  })
];

const yAxes = [
  yAxisDef({
    position: 'left',
    name: 'AMV IR10.8 (nb of ALL level), 0<QI<100',
    nameLocation: 'middle', nameRotate: 90, nameGap: 150,
    nameTextStyle: { fontSize: 30, fontFamily: FONT, color: TEXT_COLOR },
    axisLine: { show: true, onZero: false, lineStyle: lineStyle },
    axisTick: { show: true, inside: true, length: 34, customValues: Y_MAJOR_TICKS, lineStyle: tickStyle },
    axisLabel: {
      show: true, customValues: Y_MAJOR_TICKS, margin: 11, formatter: sciLabel,
      rich: {
        m: { fontSize: 26, fontFamily: FONT, color: TEXT_COLOR, lineHeight: 34, verticalAlign: 'bottom' },
        e: { fontSize: 17, fontFamily: FONT, color: TEXT_COLOR, lineHeight: 17, verticalAlign: 'top' }
      }
    }
  }),
  yAxisDef({
    position: 'left', interval: Y_MINOR_STEP,
    axisTick: { show: true, inside: true, length: 17, lineStyle: tickStyle }
  }),
  yAxisDef({
    position: 'right',
    axisLine: { show: true, onZero: false, lineStyle: lineStyle },
    axisTick: { show: true, inside: true, length: 34, customValues: Y_MAJOR_TICKS, lineStyle: tickStyle }
  }),
  yAxisDef({
    position: 'right', interval: Y_MINOR_STEP,
    axisTick: { show: true, inside: true, length: 17, lineStyle: tickStyle }
  })
];

function squareSeries(name, color, data, z) {
  return {
    name: name, type: 'scatter', xAxisIndex: 0, yAxisIndex: 0,
    data: data, symbol: 'rect', symbolSize: 3.6,
    itemStyle: { color: 'rgba(255,255,255,0)', borderColor: color, borderWidth: 2 },
    progressive: 0, large: false, silent: true, z: z
  };
}

const markerLines = []
  .concat(yearTicks.map(function (t) {
    return { xAxis: t, lineStyle: { color: '#000000', width: 3.5, type: 'solid' } };
  }))
  .concat(ORANGE_EVENT_DATES.map(function (d) {
    return { xAxis: utc(d), lineStyle: { color: '#ffa500', width: 5, type: [14, 14] } };
  }))
  .concat(GREEN_EVENT_DATES.map(function (d) {
    return { xAxis: utc(d), lineStyle: { color: '#1ee01e', width: 5, type: [14, 14] } };
  }));

const chart = echarts.init(document.getElementById('chart'), null, { renderer: 'canvas' });
chart.setOption({
  animation: false,
  backgroundColor: '#ffffff',
  grid: { left: 194, top: 16, width: 1687, height: 960, containLabel: false },
  xAxis: xAxes,
  yAxis: yAxes,
  series: [
    squareSeries('Number of operational AMVs', '#0000ff', toPoints(operationalStarts, operationalYears), 2),
    squareSeries('Number of reprocessed AMVs', '#ff0000', toPoints(reprocessedStarts, reprocessedYears), 3),
    {
      type: 'line', xAxisIndex: 0, yAxisIndex: 0, data: [], z: 5, silent: true,
      markLine: { silent: true, symbol: ['none', 'none'], label: { show: false }, animation: false, data: markerLines }
    }
  ],
  graphic: [
    { type: 'rect', silent: true, shape: { x: 0, y: 0, width: 13, height: 23 }, style: { fill: '#5b6f97' } },
    {
      type: 'rect', silent: true, shape: { x: 0, y: 23, width: 13, height: 360 },
      style: { fill: new echarts.graphic.LinearGradient(0, 0, 0, 1, [
        { offset: 0, color: '#8a9dbf' }, { offset: 1, color: '#f4f6fa' }]) }
    },
    {
      type: 'text', silent: true, x: 933, y: 802, scaleX: 0.787, z: 10,
      style: { text: '- Number of operational AMVs', fill: '#0b0bb5', font: 'bold 60px "DejaVu Sans"',
        textAlign: 'left', align: 'left', textVerticalAlign: 'middle', verticalAlign: 'middle' }
    },
    {
      type: 'text', silent: true, x: 935, y: 877, scaleX: 0.787, z: 10,
      style: { text: '- Number of reprocessed AMVs', fill: '#ff0000', font: 'bold 60px "DejaVu Sans"',
        textAlign: 'left', align: 'left', textVerticalAlign: 'middle', verticalAlign: 'middle' }
    }
  ]
});
</script>
</body>
</html>
